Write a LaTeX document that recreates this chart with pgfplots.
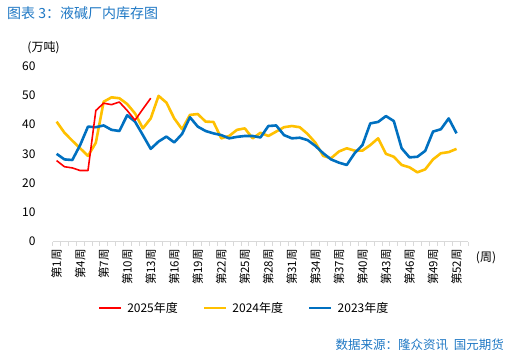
\documentclass[border=0pt]{standalone}
\usepackage{pgfplots}
\pgfplotsset{compat=1.18}
\usepackage{pgfplotstable}
\usepackage{fontspec}
\setmainfont{Noto Sans CJK SC}
\definecolor{cred}{HTML}{FF0000}
\definecolor{cyel}{HTML}{FFC000}
\definecolor{cblue}{HTML}{0070C0}
\definecolor{ctitle}{HTML}{1F78C4}
\definecolor{cgrid}{HTML}{D9D9D9}

\pgfplotstableread{
w v
1 27.7
2 25.6
3 25.2
4 24.3
5 24.3
6 44.8
7 47.3
8 46.8
9 47.7
10 44.8
11 41.5
12 45.3
13 49.0
}\redtab

\pgfplotstableread{
w v
1 41.0
2 37.2
3 34.5
4 31.9
5 29.3
6 33.8
7 47.8
8 49.3
9 49.0
10 47.0
11 43.8
12 38.7
13 42.1
14 49.8
15 47.5
16 42.1
17 38.4
18 43.3
19 43.6
20 41.0
21 40.9
22 35.3
23 36.1
24 38.2
25 38.7
26 35.3
27 37.2
28 36.1
29 37.6
30 39.1
31 39.5
32 39.1
33 36.8
34 33.8
35 29.3
36 28.5
37 30.8
38 31.9
39 31.1
40 31.1
41 33.0
42 35.3
43 30.0
44 29.0
45 26.2
46 25.4
47 23.7
48 24.7
49 28.1
50 30.2
51 30.6
52 31.7
}\yeltab

\pgfplotstableread{
w v
1 30.0
2 28.1
3 27.9
4 33.0
5 39.3
6 39.1
7 39.7
8 38.2
9 37.8
10 43.2
11 41.0
12 36.4
13 31.7
14 34.2
15 35.9
16 33.9
17 36.8
18 42.5
19 39.3
20 37.8
21 37.0
22 36.4
23 35.3
24 35.8
25 36.1
26 36.1
27 35.6
28 39.5
29 39.7
30 36.4
31 35.3
32 35.5
33 34.7
34 32.7
35 30.2
36 28.1
37 27.0
38 26.2
39 30.2
40 33.0
41 40.4
42 40.9
43 42.9
44 41.2
45 31.9
46 28.8
47 29.0
48 31.0
49 37.6
50 38.4
51 42.1
52 37.0
}\bluetab

\begin{document}
\begin{tikzpicture}[x=1bp,y=1bp]
\path[use as bounding box] (0,0) rectangle (517,360);
\node[anchor=west, text=ctitle, font=\fontsize{14bp}{16bp}\selectfont, inner sep=0pt] at (7,347) {图表 3：液碱厂内库存图};
\node[anchor=center, font=\fontsize{12bp}{14bp}\selectfont, inner sep=0pt] at (43.5,312) {(万吨)};
\node[anchor=center, font=\fontsize{12bp}{14bp}\selectfont, inner sep=0pt] at (486,102) {(周)};
\node[anchor=east, text=ctitle, font=\fontsize{12.5bp}{14bp}\selectfont, inner sep=0pt] at (504,15) {数据来源：隆众资讯\ \ 国元期货};
\begin{axis}[
  at={(52.7bp,118.3bp)}, anchor=south west,
  scale only axis, width=415.6bp, height=175.7bp,
  xmin=0.5, xmax=53.5, ymin=0, ymax=60,
  axis lines*=left,
  x axis line style={draw=cgrid, line width=0.9bp},
  y axis line style={draw=none},
  ytick={0,10,...,60},
  ytick style={draw=none},
  yticklabel style={anchor=east, inner sep=0pt, xshift=-12.7bp, font=\fontsize{12bp}{14bp}\selectfont},
  xtick={1,4,...,52},
  xticklabels={第1周,第4周,第7周,第10周,第13周,第16周,第19周,第22周,第25周,第28周,第31周,第34周,第37周,第40周,第43周,第46周,第49周,第52周},
  major x tick style={draw=none},
  minor xtick={0.5,1.5,...,53.5},
  minor x tick style={draw=cgrid, line width=0.8bp},
  tick align=outside,
  minor tick length=4bp,
  xticklabel style={rotate=90, anchor=east, inner sep=0pt, xshift=-3bp, font=\fontsize{11.5bp}{13bp}\selectfont},
  /pgf/number format/assume math mode=true,
  legend columns=3,
  legend style={at={(0.4615,-0.377)}, anchor=center, draw=none, fill=none,
    font=\fontsize{12bp}{14bp}\selectfont, inner sep=0pt, column sep=3bp,
    /tikz/every even column/.append style={column sep=23bp}},
  legend image code/.code={\draw[#1] (0bp,0bp) -- (22bp,0bp);},
]
\addlegendimage{cred, line width=1.6bp}
\addlegendentry{2025年度}
\addlegendimage{cyel, line width=2.6bp}
\addlegendentry{2024年度}
\addlegendimage{cblue, line width=2.6bp}
\addlegendentry{2023年度}
\addplot[cyel, line width=2.6bp, line join=round, forget plot] table[x=w,y=v] {\yeltab};
\addplot[cblue, line width=2.6bp, line join=round, forget plot] table[x=w,y=v] {\bluetab};
\addplot[cred, line width=1.6bp, line join=round, forget plot] table[x=w,y=v] {\redtab};
\end{axis}
\end{tikzpicture}
\end{document}
